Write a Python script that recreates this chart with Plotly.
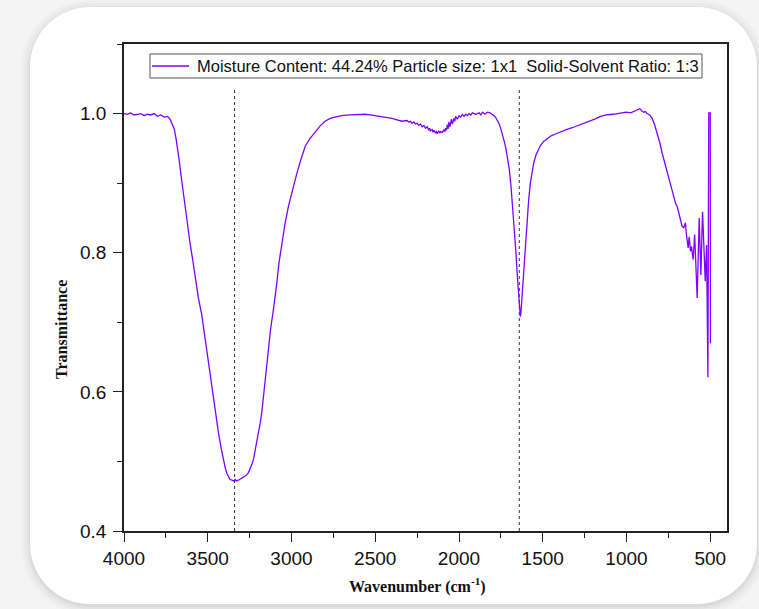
import plotly.graph_objects as go

# FTIR spectrum readings: wavenumber (cm-1) and transmittance
wavenumber = [
    4000, 3980, 3960, 3940, 3920, 3900, 3880, 3860, 3840, 3820, 3800, 3780, 3760,
    3740, 3725, 3710, 3700, 3690, 3680, 3670, 3660, 3650, 3640, 3625, 3606, 3590,
    3576, 3556, 3536, 3516, 3496, 3480, 3466, 3450, 3436, 3420, 3407, 3395, 3386,
    3375, 3367, 3355, 3345, 3337, 3330, 3317, 3300, 3287, 3270, 3257, 3245, 3235,
    3227, 3215, 3205, 3197, 3187, 3177, 3167, 3157, 3147, 3138, 3125, 3108, 3098,
    3088, 3075, 3058, 3040, 3018, 2995, 2968, 2945, 2918, 2890, 2859, 2830, 2800,
    2769, 2740, 2700, 2650, 2600, 2560, 2530, 2500, 2470, 2440, 2400, 2370, 2340,
    2310, 2300, 2290, 2280, 2270, 2260, 2250, 2240, 2230, 2220, 2210, 2200, 2190,
    2180, 2175, 2170, 2160, 2155, 2150, 2140, 2135, 2130, 2120, 2115, 2110, 2100,
    2090, 2085, 2080, 2075, 2070, 2065, 2060, 2055, 2050, 2045, 2040, 2030, 2025,
    2020, 2010, 2000, 1990, 1980, 1970, 1960, 1950, 1940, 1930, 1920, 1900, 1880,
    1870, 1860, 1845, 1830, 1815, 1800, 1790, 1780, 1770, 1760, 1750, 1740, 1730,
    1720, 1710, 1700, 1690, 1683, 1675, 1668, 1660, 1653, 1647, 1641, 1637, 1634,
    1630, 1626, 1620, 1614, 1604, 1594, 1584, 1574, 1564, 1554, 1540, 1525, 1514,
    1495, 1474, 1450, 1420, 1395, 1360, 1320, 1275, 1230, 1190, 1155, 1120, 1080,
    1036, 1000, 975, 956, 940, 930, 920, 910, 897, 887, 877, 862, 847, 832, 817,
    800, 787, 777, 767, 757, 747, 737, 727, 717, 707, 697, 688, 678, 668, 658, 648,
    643, 637, 632, 626, 618, 612, 602, 593, 578, 566, 556, 546, 530, 522, 514, 509,
    500, 499,
]
transmittance = [
    1.000, 0.999, 1.001, 0.998, 0.999, 1.000, 0.997, 0.999, 0.998, 1.000, 0.996, 0.998, 0.995,
    0.996, 0.992, 0.985, 0.978, 0.965, 0.950, 0.932, 0.912, 0.893, 0.875, 0.847, 0.814, 0.790,
    0.766, 0.735, 0.711, 0.677, 0.641, 0.612, 0.585, 0.561, 0.541, 0.519, 0.502, 0.490, 0.483,
    0.477, 0.474, 0.473, 0.472, 0.474, 0.472, 0.473, 0.476, 0.478, 0.480, 0.484, 0.490, 0.497,
    0.503, 0.518, 0.530, 0.540, 0.555, 0.571, 0.594, 0.618, 0.641, 0.664, 0.690, 0.718, 0.735,
    0.756, 0.785, 0.814, 0.840, 0.867, 0.890, 0.914, 0.933, 0.953, 0.964, 0.973, 0.982, 0.989,
    0.993, 0.995, 0.997, 0.998, 0.999, 0.999, 0.998, 0.997, 0.996, 0.995, 0.993, 0.991, 0.989,
    0.990, 0.988, 0.989, 0.986, 0.988, 0.985, 0.986, 0.983, 0.985, 0.981, 0.983, 0.979, 0.981,
    0.976, 0.979, 0.975, 0.977, 0.973, 0.976, 0.972, 0.975, 0.971, 0.975, 0.972, 0.974, 0.973,
    0.977, 0.974, 0.979, 0.976, 0.984, 0.978, 0.988, 0.981, 0.986, 0.992, 0.985, 0.993, 0.989,
    0.996, 0.992, 0.997, 0.995, 0.999, 0.996, 0.999, 0.997, 1.000, 0.998, 1.001, 0.999, 1.001,
    0.998, 1.002, 0.999, 1.002, 1.001, 0.999, 0.997, 0.994, 0.990, 0.985, 0.978, 0.970, 0.960,
    0.950, 0.937, 0.920, 0.897, 0.876, 0.852, 0.828, 0.800, 0.771, 0.745, 0.722, 0.710, 0.708,
    0.715, 0.730, 0.755, 0.780, 0.815, 0.847, 0.876, 0.900, 0.917, 0.929, 0.941, 0.949, 0.954,
    0.960, 0.964, 0.968, 0.971, 0.974, 0.977, 0.980, 0.984, 0.988, 0.992, 0.996, 0.998, 0.999,
    1.001, 1.002, 1.001, 1.003, 1.004, 1.006, 1.007, 1.004, 1.002, 1.003, 1.000, 0.998, 0.993, 0.984, 0.972,
    0.957, 0.943, 0.934, 0.924, 0.918, 0.910, 0.900, 0.891, 0.881, 0.871, 0.866, 0.857, 0.848, 0.838, 0.836, 0.843,
    0.828, 0.815, 0.807, 0.823, 0.802, 0.809, 0.790, 0.826, 0.735, 0.850, 0.768, 0.859, 0.759, 0.811, 0.621, 1.001,
    1.001, 0.670,
]

# Marked band positions (cm-1) and how high their guide lines reach
band_positions = [3340, 1640]
guide_top = 1.037

series_name = "Moisture Content: 44.24% Particle size: 1x1  Solid-Solvent Ratio: 1:3"
series_color = "#8000ff"
x_ticks = [4000, 3500, 3000, 2500, 2000, 1500, 1000, 500]
y_ticks = [0.4, 0.6, 0.8, 1.0]

W, H = 759, 609
L, R, T, B = 124, 32, 44, 78
PW, PH = W - L - R, H - T - B


def px_to_paper(px, py):
    return (px - L) / PW, (H - B - py) / PH


def rounded_rect(x0, y0, x1, y1, r):
    """SVG path of a rounded rectangle given in pixel coordinates, in paper units."""
    k = 0.5523 * r

    def p(x, y):
        X, Y = px_to_paper(x, y)
        return f"{X:.5f},{Y:.5f}"

    parts = [
        f"M {p(x0 + r, y0)}",
        f"L {p(x1 - r, y0)}",
        f"C {p(x1 - r + k, y0)} {p(x1, y0 + r - k)} {p(x1, y0 + r)}",
        f"L {p(x1, y1 - r)}",
        f"C {p(x1, y1 - r + k)} {p(x1 - r + k, y1)} {p(x1 - r, y1)}",
        f"L {p(x0 + r, y1)}",
        f"C {p(x0 + r - k, y1)} {p(x0, y1 - r + k)} {p(x0, y1 - r)}",
        f"L {p(x0, y0 + r)}",
        f"C {p(x0, y0 + r - k)} {p(x0 + r - k, y0)} {p(x0 + r, y0)}",
        "Z",
    ]
    return " ".join(parts)


fig = go.Figure()

# dashed guide lines at the marked bands
for bp in band_positions:
    fig.add_trace(go.Scatter(
        x=[bp, bp], y=[0.4, guide_top], mode="lines",
        line=dict(color="#333333", width=1, dash="3px,3px"),
        showlegend=False, hoverinfo="skip",
    ))

fig.add_trace(go.Scatter(
    x=wavenumber, y=transmittance, mode="lines", name=series_name,
    line=dict(color=series_color, width=1.3), showlegend=False,
))

# card background with a soft shadow
shapes = []
card = (30, 7, 757, 604, 60)
for grow, alpha in [(9, 0.018), (6, 0.022), (3, 0.028), (1, 0.035)]:
    shapes.append(dict(
        type="path", xref="paper", yref="paper", layer="below",
        path=rounded_rect(card[0] - grow, card[1] - grow + 2, card[2] + grow, card[3] + grow + 2, card[4] + grow),
        fillcolor=f"rgba(0,0,0,{alpha})", line=dict(width=0),
    ))
shapes.append(dict(
    type="path", xref="paper", yref="paper", layer="below",
    path=rounded_rect(*card), fillcolor="white", line=dict(width=0),
))

# compact legend box: frame, line key and series label
lg_x0, lg_y0 = px_to_paper(150, 54)
lg_x1, lg_y1 = px_to_paper(702, 78)
key_x0, key_y = px_to_paper(152, 66)
key_x1, _ = px_to_paper(189, 66)
text_x, _ = px_to_paper(195, 66)
shapes.append(dict(type="rect", xref="paper", yref="paper", x0=lg_x0, y0=lg_y0, x1=lg_x1, y1=lg_y1,
                   line=dict(color="#555555", width=1), fillcolor="white", layer="above"))
shapes.append(dict(type="line", xref="paper", yref="paper", x0=key_x0, y0=key_y, x1=key_x1, y1=key_y,
                   line=dict(color=series_color, width=1.3), layer="above"))

tick_font = dict(family="Arial, Liberation Sans, sans-serif", size=19, color="#111111")
title_font = dict(family="Times New Roman, Liberation Serif, serif", size=16, color="#111111")

fig.update_layout(
    width=W, height=H,
    margin=dict(l=L, r=R, t=T, b=B, autoexpand=False),
    paper_bgcolor="#f4f4f4",
    plot_bgcolor="white",
    shapes=shapes,
    showlegend=False,
    annotations=[
        dict(text=series_name, xref="paper", yref="paper", x=text_x, y=key_y,
             showarrow=False, xanchor="left", yanchor="middle",
             font=dict(family="Arial, Liberation Sans, sans-serif", size=16.5, color="#111111")),
        dict(text="<b>Wavenumber (cm<sup>-1</sup>)</b>", xref="paper", yref="paper",
             x=px_to_paper(417, 585)[0], y=px_to_paper(417, 585)[1],
             showarrow=False, font=title_font, xanchor="center", yanchor="middle"),
        dict(text="<b>Transmittance</b>", xref="paper", yref="paper",
             x=px_to_paper(62, 330)[0], y=px_to_paper(62, 330)[1],
             showarrow=False, font=title_font, textangle=-90,
             xanchor="center", yanchor="middle"),
    ],
)

fig.update_xaxes(
    range=[4000, 400], tickvals=x_ticks, ticks="outside", ticklen=9, tickwidth=1.3,
    tickcolor="#222222", showline=True, linecolor="#222222", linewidth=1.5, mirror=True,
    showgrid=False, zeroline=False, tickfont=tick_font,
    minor=dict(ticks="outside", ticklen=5, tickwidth=1.3, tickcolor="#222222", dtick=250, tick0=500, showgrid=False),
)
fig.update_yaxes(
    range=[0.4, 1.1], tickvals=y_ticks, tickformat=".1f", ticks="outside", ticklen=9, tickwidth=1.3,
    tickcolor="#222222", showline=True, linecolor="#222222", linewidth=1.5, mirror=True,
    showgrid=False, zeroline=False, tickfont=tick_font, ticklabelstandoff=3,
    minor=dict(ticks="outside", ticklen=5, tickwidth=1.3, tickcolor="#222222", dtick=0.1, tick0=0.4, showgrid=False),
)

fig.write_html("out.html")
